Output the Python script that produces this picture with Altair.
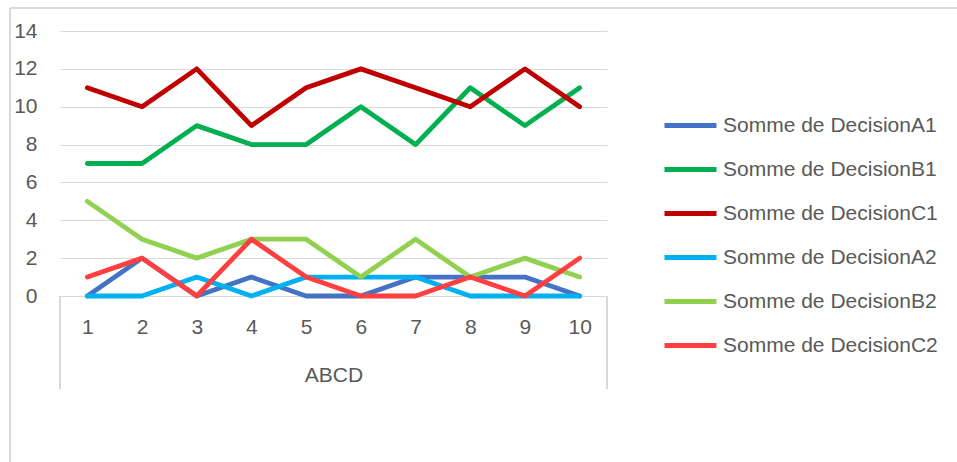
import altair as alt
import pandas as pd

categories = ["1", "2", "3", "4", "5", "6", "7", "8", "9", "10"]
series_names = [
    "Somme de DecisionA1",
    "Somme de DecisionB1",
    "Somme de DecisionC1",
    "Somme de DecisionA2",
    "Somme de DecisionB2",
    "Somme de DecisionC2",
]
a1 = [0, 2, 0, 1, 0, 0, 1, 1, 1, 0]
b1 = [7, 7, 9, 8, 8, 10, 8, 11, 9, 11]
c1 = [11, 10, 12, 9, 11, 12, 11, 10, 12, 10]
a2 = [0, 0, 1, 0, 1, 1, 1, 0, 0, 0]
b2 = [5, 3, 2, 3, 3, 1, 3, 1, 2, 1]
c2 = [1, 2, 0, 3, 1, 0, 0, 1, 0, 2]
colors = ["#4472C4", "#00B050", "#C00000", "#00B0F0", "#92D050", "#FF4040"]
y_ticks = [0, 2, 4, 6, 8, 10, 12, 14]

rows = []
for idx, (name, vals) in enumerate(zip(series_names, [a1, b1, c1, a2, b2, c2])):
    for cat, v in zip(categories, vals):
        rows.append({"cat": cat, "value": v, "series": name, "order": idx})
df = pd.DataFrame(rows)

FONT = "Liberation Sans"
GREY = "#595959"
W, H = 547, 265

lines = alt.Chart(df).mark_line(strokeWidth=4.8, strokeCap="round", strokeJoin="round").encode(
    x=alt.X(
        "cat:O",
        sort=categories,
        scale=alt.Scale(type="point", padding=0.5),
        axis=alt.Axis(
            title="ABCD",
            labelAngle=0,
            domain=False,
            ticks=False,
            grid=False,
            labelPadding=20,
            labelFont=FONT,
            labelFontSize=21,
            labelColor=GREY,
            titleFont=FONT,
            titleFontSize=21,
            titleFontWeight="normal",
            titleColor=GREY,
            titleY=68,
            titleBaseline="top",
        ),
    ),
    y=alt.Y(
        "value:Q",
        scale=alt.Scale(domain=[0, 14], nice=False),
        axis=alt.Axis(
            title=None,
            values=y_ticks,
            domain=False,
            ticks=False,
            labelPadding=23,
            labelFont=FONT,
            labelFontSize=21,
            labelColor=GREY,
            gridColor="#d9d9d9",
            gridWidth=1.2,
        ),
    ),
    color=alt.Color(
        "series:N",
        sort=series_names,
        scale=alt.Scale(domain=series_names, range=colors),
        legend=alt.Legend(
            title=None,
            orient="none",
            legendX=602,
            legendY=66,
            symbolType="stroke",
            symbolSize=2704,
            symbolStrokeWidth=4.8,
            labelFont=FONT,
            labelFontSize=21,
            labelColor=GREY,
            labelOffset=4,
            rowPadding=5,
            padding=0,
            labelLimit=400,
        ),
    ),
    order=alt.Order("order:Q"),
)

frame_color = "#d9d9d9"
frame_top = alt.Chart(df).mark_rule(color=frame_color, strokeWidth=1.2).encode(
    x=alt.value(-50), x2=alt.value(897), y=alt.value(-23)
)
frame_left = alt.Chart(df).mark_rule(color=frame_color, strokeWidth=1.2).encode(
    x=alt.value(-50), y=alt.value(-23), y2=alt.value(431)
)
box_left = alt.Chart(df).mark_rule(color=frame_color, strokeWidth=1.2).encode(
    x=alt.value(0), y=alt.value(H), y2=alt.value(358)
)
box_right = alt.Chart(df).mark_rule(color=frame_color, strokeWidth=1.2).encode(
    x=alt.value(W), y=alt.value(H), y2=alt.value(358)
)

chart = (
    alt.layer(frame_top, frame_left, box_left, box_right, lines)
    .properties(
        width=W,
        height=H,
        autosize=alt.AutoSizeParams(type="none"),
        padding={"left": 60, "top": 31, "right": 350, "bottom": 166},
        background="white",
    )
    .configure_view(stroke=None)
)

chart.save("out.html", embed_options={"renderer": "svg", "actions": False})
